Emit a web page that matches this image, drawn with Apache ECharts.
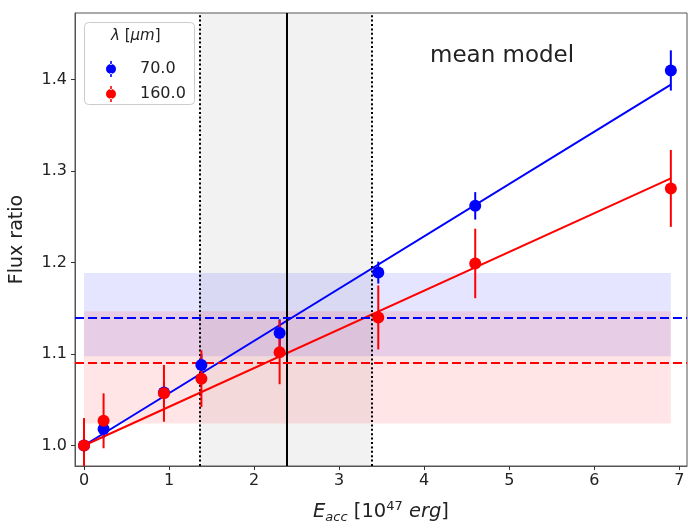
<!DOCTYPE html>
<html>
<head>
<meta charset="utf-8">
<script src="https://cdn.jsdelivr.net/npm/echarts@6/dist/echarts.min.js"></script>
<style>
html,body{margin:0;padding:0;background:#fff;}
#chart{width:688px;height:529px;}
</style>
</head>
<body>
<div id="chart"></div>
<script>
// ---- data ----
const xVals   = [0, 0.23, 0.94, 1.38, 2.3, 3.46, 4.6, 6.9];
const blueY   = [1.000, 1.018, 1.058, 1.088, 1.123, 1.189, 1.262, 1.410];
const blueErr = [0.008, 0.010, 0.012, 0.012, 0.015, 0.012, 0.015, 0.022];
const redY    = [1.000, 1.027, 1.057, 1.073, 1.102, 1.140, 1.199, 1.281];
const redErr  = [0.030, 0.030, 0.031, 0.031, 0.035, 0.035, 0.038, 0.042];
const fitX    = [0, 6.9];
const blueFit = [1.000, 1.3946];
const redFit  = [1.000, 1.292];
const blueMean = 1.1423, redMean = 1.0857;
const blueBand = [1.0976, 1.1885];
const redBand  = [1.0240, 1.1467];
const bandX    = [0, 6.9];
const eaccLow = 1.357, eaccMid = 2.385, eaccHigh = 3.38;
const xTicks = [0, 1, 2, 3, 4, 5, 6, 7];
const yTicks = [1.0, 1.1, 1.2, 1.3, 1.4];
const seriesNames = ['70.0', '160.0'];

const BLUE = '#0000ff', RED = '#ff0000', TXT = '#222222';
const FONT = 'DejaVu Sans';

const pts = (xs, ys) => xs.map((x, i) => [x, ys[i]]);
const errData = (ys, es) => xVals.map((x, i) => [x, ys[i], es[i]]);

function errRender(color) {
  return function (params, api) {
    const x = api.value(0), y = api.value(1), e = api.value(2);
    const p1 = api.coord([x, y - e]), p2 = api.coord([x, y + e]);
    const cs = params.coordSys;
    const yb = cs.y + cs.height, yt = cs.y;
    return {
      type: 'line',
      shape: { x1: p1[0], y1: Math.min(p1[1], yb), x2: p2[0], y2: Math.max(p2[1], yt) },
      style: { stroke: color, lineWidth: 2 }
    };
  };
}

const legendIcon = 'path://M5.2,0 H6.8 V4 H5.2 Z M5.2,12 H6.8 V16 H5.2 Z M1,8 A5,5 0 1 0 11,8 A5,5 0 1 0 1,8 Z';

const chart = echarts.init(document.getElementById('chart'), null, { renderer: 'canvas' });
chart.setOption({
  animation: false,
  backgroundColor: '#fff',
  textStyle: { fontFamily: FONT },
  grid: { left: 75, right: 1, top: 13, bottom: 58, show: true, borderColor: '#555', borderWidth: 1, backgroundColor: 'transparent' },
  xAxis: {
    type: 'value', min: -0.106, max: 7.09,
    axisLine: { show: true, onZero: false, lineStyle: { color: '#555', width: 1 } },
    axisTick: { show: true, customValues: xTicks, length: 4, lineStyle: { color: '#333' } },
    axisLabel: { customValues: xTicks, fontSize: 16, color: TXT, fontFamily: FONT, margin: 7, formatter: v => String(v) },
    splitLine: { show: false },
    name: '{i|E}{sub|acc} [10{sup|47} {i|erg}]',
    nameLocation: 'middle', nameGap: 34,
    nameTextStyle: {
      fontSize: 19.5, color: TXT, fontFamily: FONT, lineHeight: 24,
      rich: {
        i: { fontStyle: 'italic', fontSize: 19.5, color: TXT, fontFamily: FONT, lineHeight: 24 },
        sub: { fontStyle: 'italic', fontSize: 13, color: TXT, fontFamily: FONT, lineHeight: 13, verticalAlign: 'bottom' },
        sup: { fontSize: 13, color: TXT, fontFamily: FONT, lineHeight: 13, verticalAlign: 'top' }
      }
    }
  },
  yAxis: {
    type: 'value', min: 0.9776, max: 1.4728,
    axisLine: { show: true, onZero: false, lineStyle: { color: '#555', width: 1 } },
    axisTick: { show: true, customValues: yTicks, length: 4, lineStyle: { color: '#333' } },
    axisLabel: { customValues: yTicks, fontSize: 16, color: TXT, fontFamily: FONT, margin: 8, formatter: v => v.toFixed(1) },
    splitLine: { show: false },
    name: 'Flux ratio', nameLocation: 'middle', nameGap: 48,
    nameTextStyle: { fontSize: 19, color: TXT, fontFamily: FONT }
  },
  legend: {
    data: seriesNames,
    orient: 'vertical', left: 101, top: 56,
    itemWidth: 12, itemHeight: 16, itemGap: 9,
    icon: legendIcon,
    z: 60,
    textStyle: { fontSize: 16, color: TXT, fontFamily: FONT, padding: [0, 0, 0, 18] }
  },
  graphic: [
    { type: 'rect', left: 84, top: 22, z: 50, shape: { width: 110, height: 82, r: 4 },
      style: { fill: 'rgba(255,255,255,0.85)', stroke: '#cccccc', lineWidth: 1 } },
    { type: 'text', left: 111, top: 29, z: 61,
      style: { text: '{i|λ} [{i|μm}]', fontSize: 15, fill: TXT, fontFamily: FONT,
        rich: { i: { fontStyle: 'italic', fontSize: 15, fill: TXT, fontFamily: FONT } } } },
    { type: 'text', left: 430, top: 45, z: 61,
      style: { text: 'mean model', fontSize: 23, fill: TXT, fontFamily: FONT } }
  ],
  series: [
    { type: 'line', data: [], z: 1, silent: true,
      markArea: { silent: true, itemStyle: { color: 'rgba(128,128,128,0.1)' },
        data: [[{ xAxis: eaccLow }, { xAxis: eaccHigh }]] } },
    { type: 'line', data: [], z: 2, silent: true,
      markArea: { silent: true, itemStyle: { color: 'rgba(0,0,255,0.1)' },
        data: [[{ coord: [bandX[0], blueBand[0]] }, { coord: [bandX[1], blueBand[1]] }]] } },
    { type: 'line', data: [], z: 2, silent: true,
      markArea: { silent: true, itemStyle: { color: 'rgba(255,0,0,0.1)' },
        data: [[{ coord: [bandX[0], redBand[0]] }, { coord: [bandX[1], redBand[1]] }]] } },
    { type: 'line', data: [], z: 3, silent: true,
      markLine: { silent: true, symbol: 'none', label: { show: false },
        data: [
          { xAxis: eaccLow, lineStyle: { color: '#000', width: 2, type: [2, 2.4] } },
          { xAxis: eaccHigh, lineStyle: { color: '#000', width: 2, type: [2, 2.4] } },
          { xAxis: eaccMid, lineStyle: { color: '#000', width: 2, type: 'solid' } },
          { yAxis: blueMean, lineStyle: { color: BLUE, width: 2, type: [9, 4] } },
          { yAxis: redMean, lineStyle: { color: RED, width: 2, type: [9, 4] } }
        ] } },
    { type: 'line', data: pts(fitX, blueFit), z: 4, symbol: 'none', silent: true,
      lineStyle: { color: BLUE, width: 2 } },
    { type: 'line', data: pts(fitX, redFit), z: 4, symbol: 'none', silent: true,
      lineStyle: { color: RED, width: 2 } },
    { type: 'custom', name: 'err70', data: errData(blueY, blueErr), z: 5, clip: true,
      renderItem: errRender(BLUE), silent: true },
    { type: 'custom', name: 'err160', data: errData(redY, redErr), z: 5, clip: true,
      renderItem: errRender(RED), silent: true },
    { type: 'scatter', name: seriesNames[0], data: pts(xVals, blueY), z: 6, symbol: 'circle', symbolSize: 12,
      itemStyle: { color: BLUE, opacity: 1 } },
    { type: 'scatter', name: seriesNames[1], data: pts(xVals, redY), z: 7, symbol: 'circle', symbolSize: 12,
      itemStyle: { color: RED, opacity: 1 } }
  ]
});
</script>
</body>
</html>
